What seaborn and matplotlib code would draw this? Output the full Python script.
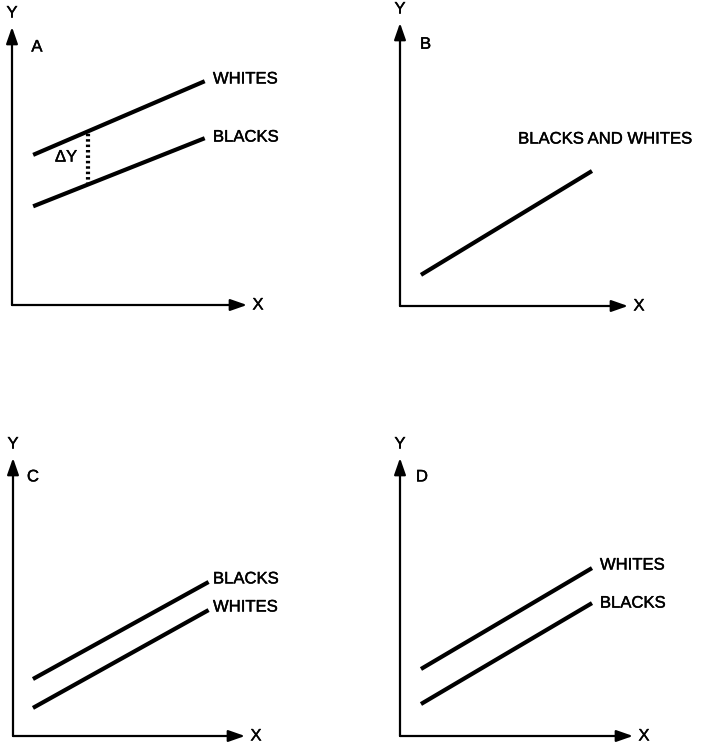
import matplotlib
matplotlib.use("Agg")
import matplotlib.pyplot as plt
import matplotlib.patheffects as pe
import numpy as np
import pandas as pd
import seaborn as sns

sns.set_style("white")
plt.rcParams["font.family"] = ["Liberation Sans", "DejaVu Sans"]
plt.rcParams["text.color"] = "black"

W, H = 705, 745

# Panel geometry in pixels: origin (x, y), arrow tip x, arrow tip y
panel_box = {
    "A": (12, 305, 247, 27),
    "B": (400, 306, 628, 23),
    "C": (13, 736, 245, 458),
    "D": (400, 736, 633, 458),
}

# Line end points (x in 0-100, y in 0-100) per panel
x_ends = [9, 82]
a_whites = [54.0, 80.5]
a_blacks = [35.5, 60.0]
b_both = [11.0, 47.7]
b_x = [9.2, 84.2]
c_x = [8.6, 84.3]
c_blacks = [20.5, 55.4]
c_whites = [10.1, 45.3]
d_x = [9.0, 82.4]
d_whites = [24.1, 60.4]
d_blacks = [11.5, 47.8]

panel_lines = {
    "A": [("WHITES", x_ends, a_whites, (85.5, 81.3)),
          ("BLACKS", x_ends, a_blacks, (85.5, 60.4))],
    "B": [("BLACKS AND WHITES", b_x, b_both, (51.8, 59.0))],
    "C": [("BLACKS", c_x, c_blacks, (86.2, 56.5)),
          ("WHITES", c_x, c_whites, (86.2, 46.4))],
    "D": [("WHITES", d_x, d_whites, (85.8, 61.5)),
          ("BLACKS", d_x, d_blacks, (85.8, 47.8))],
}
letter_pos = {"A": (10.6, 92.8), "B": (11.2, 92.5), "C": (8.6, 93.2), "D": (9.4, 93.2)}
gap_x = 32.3

FS = 12
heavy = [pe.withStroke(linewidth=0.3, foreground="black")]
fig = plt.figure(figsize=(W / 100, H / 100), dpi=100)

for name, (ox, oy, tx, ty) in panel_box.items():
    ax = fig.add_axes([ox / W, (H - oy) / H, (tx - ox) / W, (oy - ty) / H])
    ax.set_xlim(0, 100)
    ax.set_ylim(0, 100)
    ax.set_axis_off()

    # axes drawn as arrows
    arrow = dict(arrowstyle="-|>,head_length=1.0,head_width=0.35", color="black",
                 lw=1.6, shrinkA=0, shrinkB=0)
    ax.annotate("", xy=(1, 0), xytext=(0, 0), xycoords="axes fraction",
                textcoords="axes fraction", arrowprops=arrow)
    ax.annotate("", xy=(0, 1), xytext=(0, 0), xycoords="axes fraction",
                textcoords="axes fraction", arrowprops=arrow)
    ax.text(0, 1 + 14 / (oy - ty), "Y", transform=ax.transAxes, ha="center",
            va="center", fontsize=FS, path_effects=heavy)
    ax.text(1 + 11 / (tx - ox), 0, "X", transform=ax.transAxes, ha="center",
            va="center", fontsize=FS, path_effects=heavy)

    lx, ly = letter_pos[name]
    ax.text(lx, ly, name, ha="center", va="center", fontsize=FS, path_effects=heavy)

    for label, xs, ys, (tx_, ty_) in panel_lines[name]:
        df = pd.DataFrame({"x": xs, "y": ys})
        sns.lineplot(data=df, x="x", y="y", ax=ax, color="black", lw=3.0,
                     solid_capstyle="butt", clip_on=False)
        ax.text(tx_, ty_, label, ha="left", va="center", fontsize=FS,
                path_effects=heavy)

    if name == "A":
        yw = np.interp(gap_x, x_ends, a_whites)
        yb = np.interp(gap_x, x_ends, a_blacks)
        ax.plot([gap_x, gap_x], [yb, yw], color="black", lw=3.0,
                linestyle=(0, (0.6, 0.7)))
        ax.text(23.0, 53.2, "ΔY", ha="center", va="center", fontsize=FS,
                path_effects=heavy)

fig.savefig("out.png", dpi=100, facecolor="white")
